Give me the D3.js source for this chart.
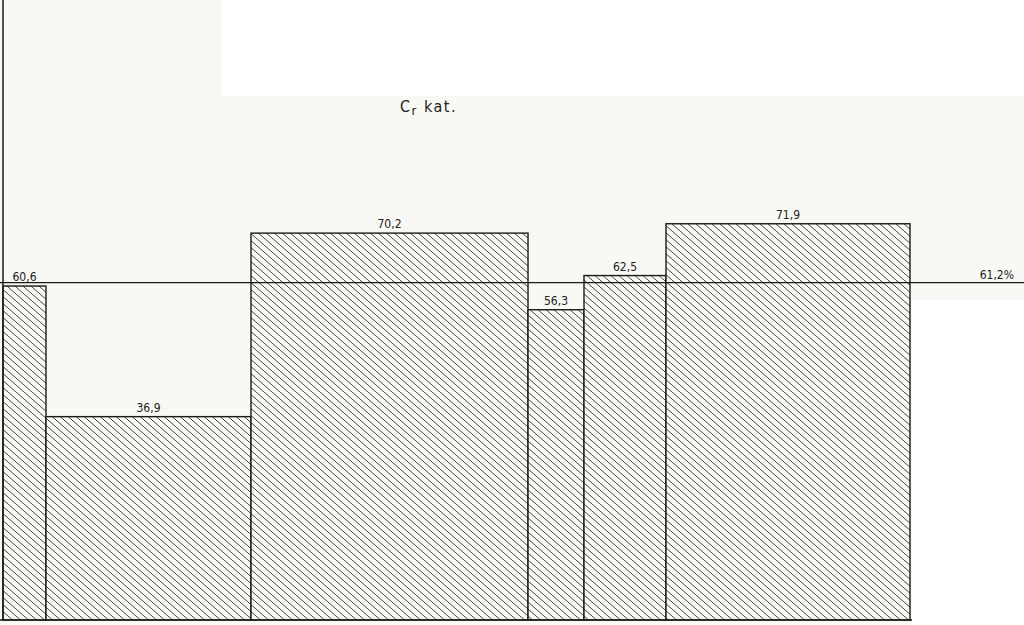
<!DOCTYPE html>
<html><head><meta charset="utf-8">
<script src="https://cdn.jsdelivr.net/npm/d3@7"></script>
<style>
html,body{margin:0;padding:0;background:#fff;}
svg{display:block;}
</style></head>
<body>
<svg id="chart" width="1024" height="625"></svg>
<script>
// Data
const categories = ["A", "B", "C", "D", "E", "F"];
const values = [60.6, 36.9, 70.2, 56.3, 62.5, 71.9];
const valueLabels = ["60,6", "36,9", "70,2", "56,3", "62,5", "71,9"];
const shares = [4.74, 22.6, 30.54, 6.17, 9.04, 26.9]; // bar widths (share, %)
const average = 61.2;
const averageLabel = "61,2%";

const W = 1024, H = 625;
const svg = d3.select("#chart");

// paper-ish background
svg.append("rect").attr("width", W).attr("height", H).attr("fill", "#f8f8f4");
svg.append("rect").attr("x", 222).attr("y", 0).attr("width", W - 222).attr("height", 96).attr("fill", "#ffffff");
svg.append("rect").attr("x", 912).attr("y", 300).attr("width", W - 912).attr("height", H - 300).attr("fill", "#ffffff");

const defs = svg.append("defs");
const pat = defs.append("pattern")
  .attr("id", "hatch").attr("patternUnits", "userSpaceOnUse")
  .attr("width", 8).attr("height", 7);
pat.append("rect").attr("width", 8).attr("height", 7).attr("fill", "#f8f8f4");
pat.append("path").attr("d", "M-1,-0.875 L9,7.875")
  .attr("stroke", "#444").attr("stroke-width", 1);

const x = d3.scaleLinear().domain([0, d3.sum(shares)]).range([3, 910]);
const y = d3.scaleLinear().domain([0, 112.5]).range([620, 0]);

const cum = [];
let acc = 0;
shares.forEach(s => { cum.push(acc); acc += s; });
const data = categories.map((c, i) => ({c, v: values[i], label: valueLabels[i], x0: cum[i], x1: cum[i] + shares[i]}));

// bars
svg.append("g").selectAll("rect").data(data).join("rect")
  .attr("x", d => x(d.x0)).attr("y", d => y(d.v))
  .attr("width", d => x(d.x1) - x(d.x0)).attr("height", d => y(0) - y(d.v))
  .attr("fill", "url(#hatch)").attr("stroke", "#1a1a1a").attr("stroke-width", 1.4);

// average line
svg.append("line").attr("x1", 0).attr("x2", W)
  .attr("y1", y(average)).attr("y2", y(average))
  .attr("stroke", "#1a1a1a").attr("stroke-width", 1.3);
svg.append("text").attr("x", 1014).attr("y", y(average) - 4)
  .attr("text-anchor", "end").attr("font-family", "DejaVu Sans Condensed, DejaVu Sans")
  .attr("font-size", 12).attr("fill", "#222").text(averageLabel);

// value labels
svg.append("g").selectAll("text").data(data).join("text")
  .attr("x", d => (x(d.x0) + x(d.x1)) / 2).attr("y", d => y(d.v) - 5)
  .attr("text-anchor", "middle").attr("font-family", "DejaVu Sans Condensed, DejaVu Sans")
  .attr("font-size", 12).attr("fill", "#222").text(d => d.label);

// axes lines
svg.append("line").attr("x1", 3).attr("x2", 3).attr("y1", 0).attr("y2", y(0))
  .attr("stroke", "#1a1a1a").attr("stroke-width", 1.5);
svg.append("line").attr("x1", 0).attr("x2", 912).attr("y1", y(0)).attr("y2", y(0))
  .attr("stroke", "#1a1a1a").attr("stroke-width", 1.5);

// title
const t = svg.append("text").attr("x", 400).attr("y", 112)
  .attr("font-family", "DejaVu Sans Condensed, DejaVu Sans").attr("font-size", 16).attr("fill", "#222")
  .attr("letter-spacing", 1.5);
t.append("tspan").text("C");
t.append("tspan").attr("dy", 3).attr("font-size", 13).text("r");
t.append("tspan").attr("dy", -3).text(" kat.");
</script>
</body></html>
